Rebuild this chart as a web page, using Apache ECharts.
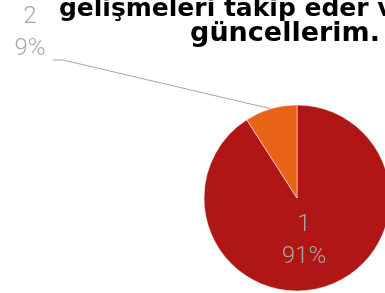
<!DOCTYPE html>
<html>
<head>
<meta charset="utf-8">
<script src="https://cdn.jsdelivr.net/npm/echarts@6/dist/echarts.min.js"></script>
<style>
  html, body { margin: 0; padding: 0; background: #fff; }
  #chart { width: 385px; height: 293px; }
</style>
</head>
<body>
<div id="chart"></div>
<script>
// chart data
var categories = ['1', '2'];
var values = [10, 1];
var colors = ['#B01616', '#E86317'];
var titleLines = ['gelişmeleri takip eder ve kendimi', 'güncellerim.'];

var chart = echarts.init(document.getElementById('chart'));

var labelFont = {
    fontFamily: 'Roboto',
    fontWeight: 300,
    fontStyle: 'normal',
    fontSize: 24,
    lineHeight: 32,
    color: '#A6A6A6'
};

var pieData = [];
for (var i = 0; i < categories.length; i++) {
    var item = {
        name: categories[i],
        value: values[i],
        itemStyle: { color: colors[i] }
    };
    if (i == 0) {
        item.label = { position: 'inside' };
        item.labelLine = { show: false };
    } else {
        item.label = { position: 'outside' };
        item.labelLine = { show: true };
    }
    pieData.push(item);
}

var option = {
    animation: false,
    graphic: [
        {
            type: 'text', x: 295, y: 9,
            style: {
                text: titleLines[0], align: 'center', verticalAlign: 'middle',
                font: 'bold 25px "DejaVu Sans"', fill: '#000'
            }
        },
        {
            type: 'text', x: 285, y: 34,
            style: {
                text: titleLines[1], align: 'center', verticalAlign: 'middle',
                font: 'bold 27px "DejaVu Sans"', fill: '#000'
            }
        }
    ],
    series: [{
        type: 'pie',
        center: [297, 198],
        radius: 93,
        startAngle: 90,
        clockwise: true,
        percentPrecision: 0,
        avoidLabelOverlap: false,
        itemStyle: { borderColor: '#fff', borderWidth: 0.5 },
        label: Object.assign({ formatter: '{b}\n{d}%' }, labelFont),
        labelLine: {
            lineStyle: { color: '#A6A6A6', width: 1 }
        },
        emphasis: { disabled: true },
        labelLayout: function (params) {
            if (params.dataIndex === 0) {
                return { dx: -7, dy: -4 };
            }
            if (!params.labelLinePoints) return;
            var start = params.labelLinePoints[0];
            return {
                x: 30,
                y: 33,
                align: 'center',
                verticalAlign: 'middle',
                labelLinePoints: [start, [63, 60], [53, 60]]
            };
        },
        data: pieData
    }]
};

chart.setOption(option);
</script>
</body>
</html>
